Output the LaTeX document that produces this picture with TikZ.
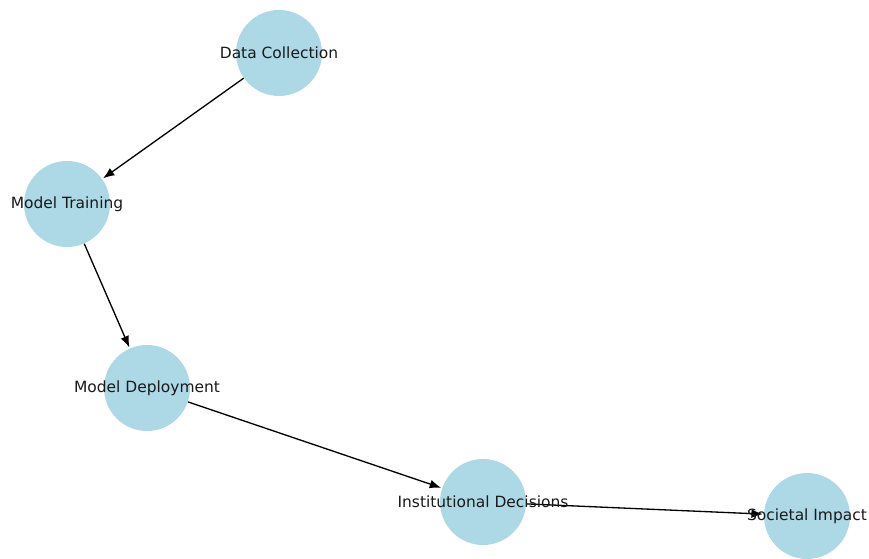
\documentclass[tikz,border=0pt]{standalone}
\usepackage{fontspec}
\setmainfont{DejaVu Sans}
\usetikzlibrary{arrows.meta}
\definecolor{nodefill}{RGB}{173,216,230}

\begin{document}
\begin{tikzpicture}[
      x=0.02cm, y=-0.02cm,
      dot/.style={circle, fill=nodefill, draw=none, minimum size=1.72cm, inner sep=0pt},
      lbl/.style={font=\fontsize{8.8}{10}\selectfont, text=black!90, inner sep=0pt},
      edge/.style={-{Latex[length=6.5pt, width=5pt]}, line width=0.75pt, black, shorten >=0.5pt}
    ]
      \useasboundingbox (0,0) rectangle (869,558);

      \node[dot] (collect) at (279,53) {};
      \node[dot] (train) at (67,204) {};
      \node[dot] (deploy) at (147,388) {};
      \node[dot] (decide) at (483,502) {};
      \node[dot] (impact) at (807,516) {};

      % edges
      \draw[edge] (collect) -- (train);
      \draw[edge] (train) -- (deploy);
      \draw[edge] (deploy) -- (decide);
      \draw[edge] (decide) -- (impact);

      % labels on top
      \node[lbl] (collectlbl) at (collect) {Data Collection};
      \node[lbl] (trainlbl) at (train) {Model Training};
      \node[lbl] (deploylbl) at (deploy) {Model Deployment};
      \node[lbl] (decidelbl) at (decide) {Institutional Decisions};
      \node[lbl] (impactlbl) at (impact) {Societal Impact};
    \end{tikzpicture}
\end{document}
